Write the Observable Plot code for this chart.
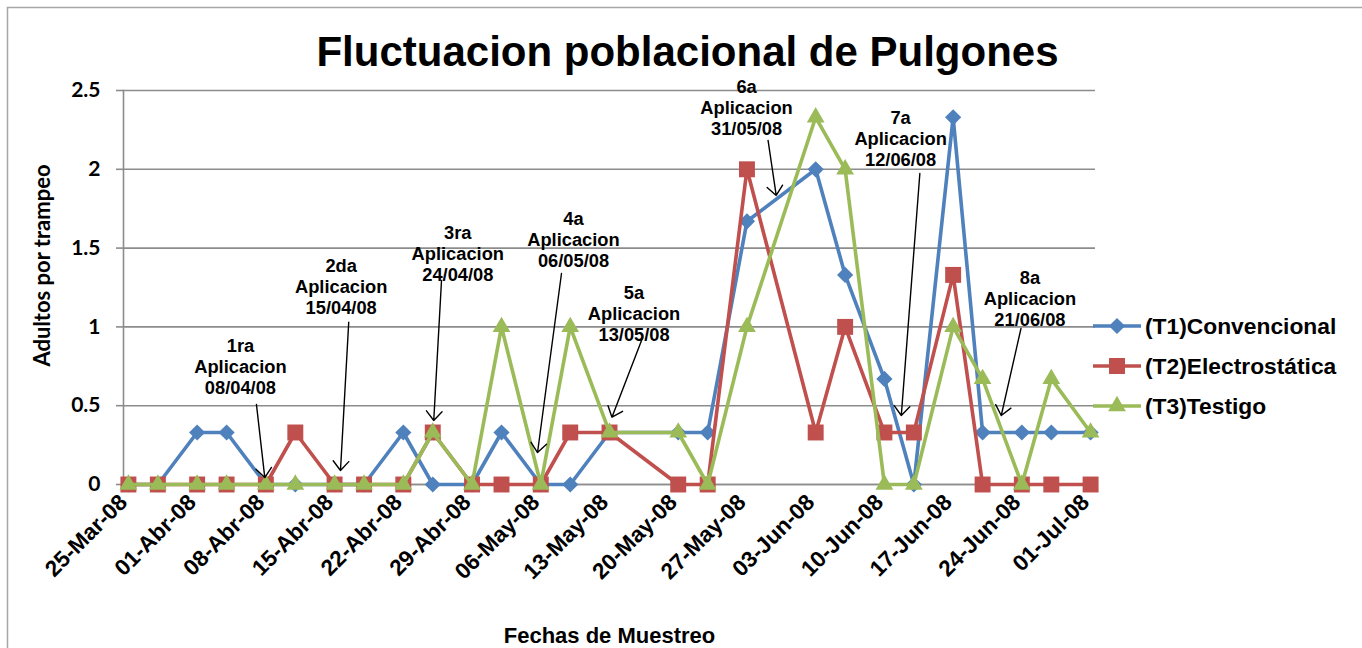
<!DOCTYPE html>
<html>
<head>
<meta charset="utf-8">
<script src="https://cdn.jsdelivr.net/npm/d3@7"></script>
<script src="https://cdn.jsdelivr.net/npm/@observablehq/plot@0.6"></script>
<style>
  html, body { margin: 0; padding: 0; background: #fff; }
  #chart { position: relative; width: 1362px; height: 648px; overflow: hidden; }
</style>
</head>
<body>
<div id="chart"></div>
<script>
// ---- data ----
const sampleDates = ["2008-03-25","2008-03-28","2008-04-01","2008-04-04","2008-04-08","2008-04-11","2008-04-15","2008-04-18","2008-04-22","2008-04-25","2008-04-29","2008-05-02","2008-05-06","2008-05-09","2008-05-13","2008-05-20","2008-05-23","2008-05-27","2008-06-03","2008-06-06","2008-06-10","2008-06-13","2008-06-17","2008-06-20","2008-06-24","2008-06-27","2008-07-01"];
const t1Convencional   = [0,0,0.33,0.33,0,0,0,0,0.33,0,0,0.33,0,0,0.33,0.33,0.33,1.67,2,1.33,0.67,0,2.33,0.33,0.33,0.33,0.33];
const t2Electrostatica = [0,0,0,0,0,0.33,0,0,0,0.33,0,0,0,0.33,0.33,0,0,2,0.33,1,0.33,0.33,1.33,0,0,0,0];
const t3Testigo        = [0,0,0,0,0,0,0,0,0,0.33,0,1,0,1,0.33,0.33,0,1,2.33,2,0,0,1,0.67,0,0.67,0.33];
const seriesNames  = ["(T1)Convencional","(T2)Electrostática","(T3)Testigo"];
const seriesColors = ["#4F81BD","#C0504D","#9BBB59"];
const seriesSymbols = ["diamond2","square","triangle"];

const tickDates  = ["2008-03-25","2008-04-01","2008-04-08","2008-04-15","2008-04-22","2008-04-29","2008-05-06","2008-05-13","2008-05-20","2008-05-27","2008-06-03","2008-06-10","2008-06-17","2008-06-24","2008-07-01"];
const tickLabels = ["25-Mar-08","01-Abr-08","08-Abr-08","15-Abr-08","22-Abr-08","29-Abr-08","06-May-08","13-May-08","20-May-08","27-May-08","03-Jun-08","10-Jun-08","17-Jun-08","24-Jun-08","01-Jul-08"];
const yTicks = [0,0.5,1,1.5,2,2.5];

// annotations (days after 25-Mar-08, value in y units)
const annLabels   = ["1ra\nAplicacion\n08/04/08","2da\nAplicacion\n15/04/08","3ra\nAplicacion\n24/04/08","4a\nAplicacion\n06/05/08","5a\nAplicacion\n13/05/08","6a\nAplicacion\n31/05/08","7a\nAplicacion\n12/06/08","8a\nAplicacion\n21/06/08"];
const annTextDay  = [11.41,21.67,33.55,45.33,51.5,62.96,78.65,91.82];
const annTextVal  = [0.749,1.256,1.468,1.558,1.085,2.395,2.195,1.180];
const annFromDay  = [13.04,22.44,31.89,44.11,52.34,65.15,80.61,90.91];
const annFromVal  = [0.508,1.03,1.294,1.339,0.926,2.183,1.973,0.99];
const annToDay    = [13.89,21.6,31.1,41.67,49.25,65.98,78.72,88.9];
const annToVal    = [0.044,0.089,0.406,0.203,0.427,1.834,0.438,0.438];

// ---- build tables ----
const parse = s => new Date(s + "T00:00:00Z");
const series = [t1Convencional, t2Electrostatica, t3Testigo];
const rows = series.map((vals, k) => sampleDates.map((d, i) => ({date: parse(d), value: vals[i], s: k})));
const start = Date.UTC(2008, 2, 25);
const dayToDate = day => new Date(start + day * 864e5);
const ann = annLabels.map((label, i) => ({
  label,
  tx: dayToDate(annTextDay[i]), ty: annTextVal[i],
  x1: dayToDate(annFromDay[i]), y1: annFromVal[i],
  x2: dayToDate(annToDay[i]), y2: annToVal[i]
}));
const labelByTime = new Map(tickDates.map((d, i) => [+parse(d), tickLabels[i]]));

const ARIAL = "'Liberation Sans', Arial, sans-serif";
const CALIBRI = "Lato, 'Open Sans', sans-serif";
const GRID = "#8c8c8c";
const symbolR = [7.3, 9, 6.6];

const seriesMarks = rows.flatMap((data, k) => [
  Plot.line(data, {x: "date", y: "value", stroke: seriesColors[k], strokeWidth: 3.6, strokeLinejoin: "round"}),
  Plot.dot(data, {x: "date", y: "value", symbol: () => seriesSymbols[k], fill: seriesColors[k], stroke: "none", r: symbolR[k]})
]);

const chart = Plot.plot({
  width: 1362,
  height: 648,
  marginLeft: 123,
  marginRight: 267,
  marginTop: 90,
  marginBottom: 164,
  style: {fontFamily: ARIAL, color: "#000", background: "#fff", overflow: "hidden"},
  x: {type: "utc", domain: [new Date(Date.UTC(2008, 2, 24, 12)), new Date(Date.UTC(2008, 6, 1, 12))]},
  y: {domain: [0, 2.5]},
  symbol: {type: "identity"},
  marks: [
    Plot.gridY(yTicks, {stroke: GRID, strokeOpacity: 1, strokeWidth: 1.6}),
    Plot.ruleY([0], {stroke: GRID, strokeWidth: 1.6}),
    Plot.frame({anchor: "left", stroke: GRID, strokeWidth: 1.6}),
    Plot.axisY({ticks: yTicks, tickFormat: d => String(d), tickSize: 7, tickPadding: 16, stroke: GRID, strokeWidth: 1.6,
      fontSize: 21, fontWeight: "bold", fontFamily: CALIBRI, label: null}),
    Plot.axisX({ticks: tickDates.map(parse), tickFormat: d => labelByTime.get(+d), tickRotate: -45, tickSize: 0, tickPadding: 14,
      dx: -5, fontSize: 22.5, fontWeight: "bold", fontFamily: ARIAL, label: null}),
    ...seriesMarks,
    Plot.arrow(ann, {x1: "x1", y1: "y1", x2: "x2", y2: "y2", stroke: "#000", strokeWidth: 1.4, headLength: 13, headAngle: 80}),
    Plot.text(ann, {x: "tx", y: "ty", text: "label", fontSize: 18.3, fontWeight: "bold", fontFamily: ARIAL, lineHeight: 1.15, fill: "#000"}),
    Plot.text(["Fluctuacion poblacional de Pulgones"], {frameAnchor: "top", lineAnchor: "middle", textAnchor: "middle", dx: 78, dy: -38, fontSize: 42, fontWeight: "bold", fontFamily: ARIAL}),
    Plot.text(["Fechas de Muestreo"], {frameAnchor: "bottom", lineAnchor: "middle", textAnchor: "middle", dy: 151, fontSize: 22, fontWeight: "bold", fontFamily: ARIAL}),
    Plot.text(["Adultos por trampeo"], {frameAnchor: "left", lineAnchor: "middle", textAnchor: "middle", dx: -81, dy: -22, rotate: -90, fontSize: 22, fontWeight: "bold", fontFamily: CALIBRI})
  ]
});

document.getElementById("chart").appendChild(chart);

// ---- legend & border (layout) ----
const svg = d3.select(chart);
svg.append("rect").attr("x", 7.5).attr("y", 7.5).attr("width", 1400).attr("height", 700)
  .attr("fill", "none").attr("stroke", "#a6a6a6").attr("stroke-width", 1.5);
const symbolTypes = {diamond2: d3.symbolDiamond2, square: d3.symbolSquare, triangle: d3.symbolTriangle};
const lg = svg.append("g").attr("transform", "translate(1093,326)");
seriesNames.forEach((name, k) => {
  const g = lg.append("g").attr("transform", `translate(0,${k * 40})`);
  g.append("line").attr("x1", 0).attr("x2", 48).attr("y1", 0).attr("y2", 0)
    .attr("stroke", seriesColors[k]).attr("stroke-width", 3.6);
  g.append("path").attr("transform", "translate(24,0)")
    .attr("d", d3.symbol(symbolTypes[seriesSymbols[k]], Math.PI * symbolR[k] * symbolR[k])())
    .attr("fill", seriesColors[k]);
  g.append("text").attr("x", 52).attr("y", 0).attr("dy", "0.35em").attr("text-anchor", "start")
    .attr("font-family", ARIAL).attr("font-weight", "bold").attr("font-size", 22.8).attr("fill", "#000")
    .text(name);
});
</script>
</body>
</html>
